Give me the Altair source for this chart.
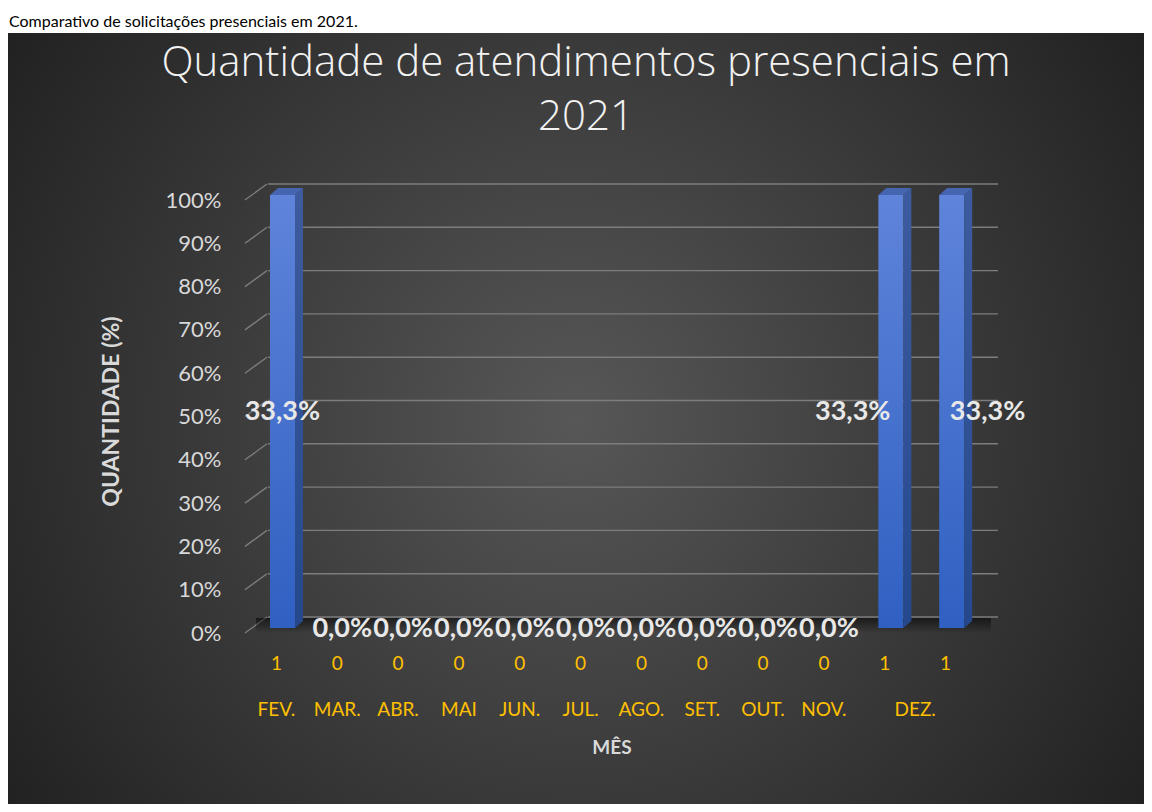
import altair as alt
import pandas as pd

# ---------------- data ----------------
caption = "Comparativo de solicitações presenciais em 2021."
title_lines = ["Quantidade de atendimentos presenciais em", "2021"]
x_title = "MÊS"
y_title = "QUANTIDADE (%)"
months = ["FEV.", "MAR.", "ABR.", "MAI", "JUN.", "JUL.", "AGO.", "SET.", "OUT.", "NOV.", "DEZ."]
month_columns = [1, 1, 1, 1, 1, 1, 1, 1, 1, 1, 2]
counts = [1, 0, 0, 0, 0, 0, 0, 0, 0, 0, 1, 1]
share_pct = [33.3, 0.0, 0.0, 0.0, 0.0, 0.0, 0.0, 0.0, 0.0, 0.0, 33.3, 33.3]
y_ticks = [0, 10, 20, 30, 40, 50, 60, 70, 80, 90, 100]

# ---------------- tables ----------------
n = len(counts)
df = pd.DataFrame({
    "idx": list(range(n)),
    "count": counts,
    "count_txt": [str(c) for c in counts],
    "share": share_pct,
    "label": [f"{s:.1f}%".replace(".", ",") for s in share_pct],
})
month_rows = []
start = 0
for name, cols in zip(months, month_columns):
    month_rows.append({"month": name, "center": start + (cols - 1) / 2})
    start += cols
mdf = pd.DataFrame(month_rows)
tdf = pd.DataFrame({"tick": y_ticks})
ttl = pd.DataFrame({"line": title_lines, "row": list(range(len(title_lines)))})
one = pd.DataFrame({"k": [0]})

W, H = 730, 433
PAD_L, PAD_T, PAD_R, PAD_B = 238, 187, 168, 176

xs = alt.Scale(domain=[-0.5, n - 0.5], nice=False, zero=False)
ys = alt.Scale(domain=[0, 100], nice=False)

LABEL = "#d9d9d9"
ORANGE = "#ffc000"
FONT = "Lato"

def grad(c1, c2, vertical=True):
    return alt.LinearGradient(
        gradient="linear",
        stops=[alt.GradientStop(color=c1, offset=0), alt.GradientStop(color=c2, offset=1)],
        x1=0, x2=0 if vertical else 1, y1=0, y2=1 if vertical else 0,
    )

# background panel
bg = alt.Chart(one).mark_rect(
    fill=alt.RadialGradient(
        gradient="radial",
        stops=[
            alt.GradientStop(color="#575757", offset=0),
            alt.GradientStop(color="#2b2b2b", offset=0.8),
            alt.GradientStop(color="#202020", offset=1),
        ],
        x1=0.5, y1=0.5, r1=0, x2=0.5, y2=0.5, r2=0.62,
    )
).encode(
    x=alt.value(-PAD_L), x2=alt.value(W + PAD_R),
    y=alt.value(-PAD_T + 25), y2=alt.value(H + PAD_B),
)

cap = alt.Chart(one).mark_text(
    align="left", baseline="alphabetic", font=FONT, fontSize=16, color="#000000"
).encode(x=alt.value(-PAD_L + 1), y=alt.value(-PAD_T + 19), text=alt.value(caption))

# chart title (two lines)
title = alt.Chart(ttl).mark_text(
    align="center", baseline="alphabetic", font="Open Sans", fontWeight=300,
    fontSize=42, color="#f2f2f2",
).encode(
    x=alt.value(340),
    y=alt.Y("row:Q", scale=alt.Scale(domain=[0, 1], range=[-119, -65]), axis=None),
    text="line:N",
)

# floor shadow
floor = alt.Chart(one).mark_rect(
    fill=alt.LinearGradient(
        gradient="linear",
        stops=[alt.GradientStop(color="rgba(0,0,0,0.55)", offset=0),
               alt.GradientStop(color="rgba(0,0,0,0)", offset=1)],
        x1=0, x2=0, y1=0, y2=1,
    )
).encode(x=alt.value(10), x2=alt.value(745), y=alt.value(423), y2=alt.value(438))

# back-wall gridlines
grid = alt.Chart(tdf).mark_rule(color="#7d7d7d", strokeWidth=1.4, yOffset=-11).encode(
    y=alt.Y("tick:Q", scale=ys, axis=None),
    x=alt.value(22), x2=alt.value(752),
)
# left-wall diagonals
diag = alt.Chart(tdf).mark_rule(color="#7d7d7d", strokeWidth=1.4, yOffset=5, y2Offset=-11).encode(
    y=alt.Y("tick:Q", scale=ys, axis=None),
    y2="tick:Q",
    x=alt.value(-1), x2=alt.value(21),
)

base = alt.Chart(df).transform_calculate(
    bar="datum.count > 0 ? 100 : 0", zero="0"
)

front = base.transform_calculate(
    fx="datum.idx - 0.105", fx2="datum.idx + 0.306"
).transform_filter("datum.bar > 0").mark_rect(
    fill=grad("#5f84da", "#2f60c2")
).encode(
    x=alt.X("fx:Q", scale=xs, axis=None),
    x2="fx2:Q",
    y=alt.Y("bar:Q", scale=ys, axis=alt.Axis(
        values=y_ticks, labelExpr="datum.value + '%'", labelColor=LABEL, labelFont=FONT,
        labelFontSize=22, labelPadding=25, labelOffset=5, ticks=False, domain=False, grid=False,
        title=y_title, titleX=-135, titleY=216, titleAngle=-90, titleBaseline="middle",
        titleAlign="center", titleColor=LABEL, titleFont=FONT, titleFontWeight="bold",
        titleFontSize=23, zindex=2,
    )),
    y2="zero:Q",
)

side = base.transform_filter("datum.bar > 0").transform_calculate(
    front="datum.idx + 0.306", back="datum.idx + 0.437"
).transform_fold(["front", "back"], as_=["edge", "sx"]).transform_calculate(
    lift="datum.edge == 'back' ? 1.62 : 0",
    sy="datum.bar + datum.lift", sy2="datum.lift",
).mark_area(orient="vertical", fill=grad("#3d5c9f", "#25488d")).encode(
    x=alt.X("sx:Q", scale=xs, axis=None),
    y=alt.Y("sy:Q", scale=ys, axis=None),
    y2="sy2:Q",
    detail="idx:N",
)

top = base.transform_filter("datum.bar > 0").transform_calculate(
    f="0", b="1.62"
).transform_fold(["f", "b"], as_=["edge", "lift"]).transform_calculate(
    ty="datum.bar + datum.lift",
    tx="datum.idx - 0.105 + (datum.edge == 'b' ? 0.131 : 0)",
    tx2="datum.idx + 0.306 + (datum.edge == 'b' ? 0.131 : 0)",
).mark_area(orient="horizontal", color="#4565b0").encode(
    y=alt.Y("ty:Q", scale=ys, axis=None),
    x=alt.X("tx:Q", scale=xs, axis=None),
    x2="tx2:Q",
    detail="idx:N",
)

lab_style = dict(font=FONT, fontSize=27, fontWeight="bold", color="#e8e8e8", baseline="middle")

zero_lab = base.transform_filter("datum.bar == 0").mark_text(dx=5, dy=1, **lab_style).encode(
    x=alt.X("idx:Q", scale=xs, axis=None),
    y=alt.Y("zero:Q", scale=ys, axis=None),
    text="label:N",
)

def bar_label(i, dx):
    return base.transform_filter(f"datum.idx == {i}").transform_calculate(
        mid="datum.bar / 2"
    ).mark_text(dx=dx, **lab_style).encode(
        x=alt.X("idx:Q", scale=xs, axis=None),
        y=alt.Y("mid:Q", scale=ys, axis=None),
        text="label:N",
    )

lab0 = bar_label(0, 6)
lab10 = bar_label(10, -32)
lab11 = bar_label(11, 42)

# category labels: counts row and month row (two-level x axis)
count_txt = alt.Chart(df).mark_text(
    font=FONT, fontSize=19, color=ORANGE, baseline="middle"
).encode(
    x=alt.X("idx:Q", scale=xs, axis=None),
    y=alt.value(469),
    text="count_txt:N",
)

month_txt = alt.Chart(mdf).mark_text(
    font=FONT, fontSize=19, color=ORANGE, baseline="middle"
).encode(
    x=alt.X("center:Q", scale=xs, axis=None),
    y=alt.value(515),
    text="month:N",
)

xtitle = alt.Chart(one).mark_text(
    font=FONT, fontSize=19, fontWeight="bold", color=LABEL, baseline="middle"
).encode(x=alt.value(366), y=alt.value(553), text=alt.value(x_title))

chart = alt.layer(
    bg, cap, title, grid, diag, floor, front, side, top, zero_lab, lab0, lab10, lab11,
    count_txt, month_txt, xtitle,
).resolve_scale(y="independent").properties(
    width=W, height=H,
    autosize=alt.AutoSizeParams(type="none"),
    padding={"left": PAD_L, "top": PAD_T, "right": PAD_R, "bottom": PAD_B},
    background="#ffffff",
).configure_view(stroke=None)

chart.save("out.html", embed_options={"renderer": "svg", "actions": False})
